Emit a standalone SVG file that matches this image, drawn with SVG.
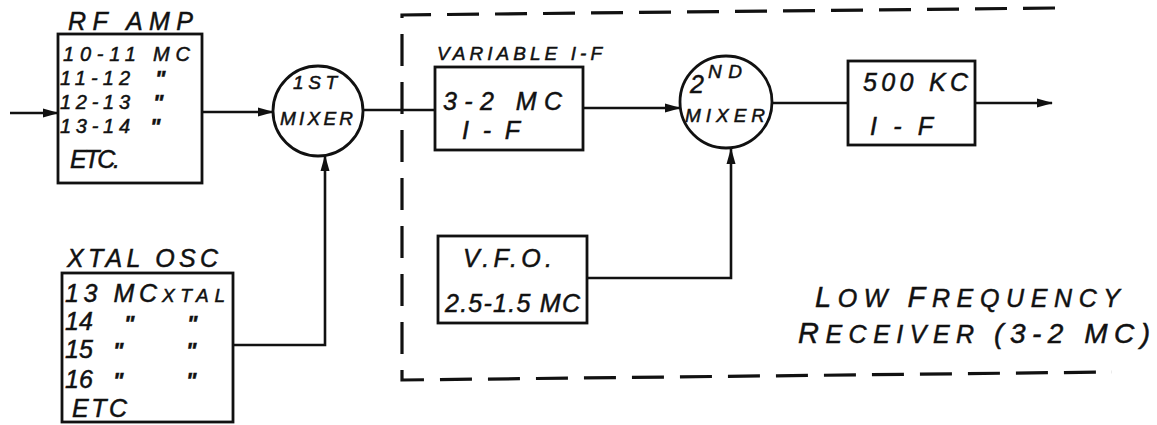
<svg xmlns="http://www.w3.org/2000/svg" width="1157" height="425" viewBox="0 0 1157 425">
<defs>
<marker id="arr" markerWidth="16" markerHeight="10" refX="15" refY="5" orient="auto" markerUnits="userSpaceOnUse">
<path d="M0,0.5 L16,5 L0,9.5 Z" fill="#111"/>
</marker>
<style>
.box{fill:none;stroke:#111;stroke-width:2.8}
.ln{fill:none;stroke:#111;stroke-width:2.6}
.dash{fill:none;stroke:#111;stroke-width:3.2;stroke-dasharray:32 16}
text{font-family:"Liberation Sans",Arial,sans-serif;font-style:italic;fill:#111;stroke:#111;stroke-width:0.5}
.t{font-size:25px}
.r{font-size:20px}
.s{font-size:19px}
.d{font-size:22px;font-weight:bold}
</style>
</defs>
<rect width="1157" height="425" fill="#fff"/>

<g id="receiver-boundary">
<path class="dash" d="M1055,8 L402,15 L402,380 L1112,372"/>
<text class="t" x="815" y="307" font-size="22" textLength="305" lengthAdjust="spacing"><tspan font-size="29">L</tspan>OW <tspan font-size="29">F</tspan>REQUENCY</text>
<text class="t" x="798" y="343" font-size="22" textLength="352" lengthAdjust="spacing"><tspan font-size="29">R</tspan>ECEIVER <tspan font-size="28">(3-2 MC)</tspan></text>
</g>

<g id="connectors">
<line class="ln" x1="10" y1="113" x2="58" y2="113" marker-end="url(#arr)"/>
<line class="ln" x1="202" y1="112" x2="273" y2="112" marker-end="url(#arr)"/>
<polyline class="ln" points="233,345 325,345 325,156" marker-end="url(#arr)"/>
<line class="ln" x1="363" y1="110" x2="435" y2="110"/>
<line class="ln" x1="583" y1="108" x2="680" y2="108" marker-end="url(#arr)"/>
<polyline class="ln" points="587,278 731,278 731,149" marker-end="url(#arr)"/>
<line class="ln" x1="773" y1="103" x2="848" y2="103"/>
<line class="ln" x1="975" y1="103" x2="1052" y2="103" marker-end="url(#arr)"/>
</g>

<g id="rf-amp">
<text class="t" x="68" y="30" font-size="22" textLength="125" lengthAdjust="spacing">RF AMP</text>
<rect class="box" x="58" y="34" width="144" height="149"/>
<text class="r" x="63" y="61" textLength="127" lengthAdjust="spacing">10-11 MC</text>
<text class="r" x="60" y="85" textLength="70" lengthAdjust="spacing">11-12</text>
<text class="d" x="155" y="86">"</text>
<text class="r" x="60" y="109" textLength="70" lengthAdjust="spacing">12-13</text>
<text class="d" x="153" y="110">"</text>
<text class="r" x="60" y="133" textLength="70" lengthAdjust="spacing">13-14</text>
<text class="d" x="150" y="134">"</text>
<text class="t" x="70" y="168" font-size="22" textLength="50" lengthAdjust="spacing">ETC.</text>
</g>

<g id="mixer-1">
<circle class="box" cx="318" cy="111" r="45"/>
<text class="s" x="293" y="89" font-size="21" textLength="44" lengthAdjust="spacing">1ST</text>
<text class="s" x="280" y="125" textLength="73" lengthAdjust="spacing">MIXER</text>
</g>

<g id="xtal-osc">
<text class="t" x="67" y="267" textLength="151" lengthAdjust="spacing">XTAL OSC</text>
<rect class="box" x="62" y="273" width="171" height="149"/>
<text class="t" x="65" y="302" font-size="26" textLength="92" lengthAdjust="spacing">13 MC</text>
<text class="s" x="162" y="302" font-size="21" textLength="63" lengthAdjust="spacing">XTAL</text>
<text class="t" x="65" y="330" font-size="24">14</text>
<text class="d" x="124" y="331">"</text>
<text class="d" x="187" y="331">"</text>
<text class="t" x="65" y="358" font-size="24">15</text>
<text class="d" x="113" y="358">"</text>
<text class="d" x="186" y="358">"</text>
<text class="t" x="65" y="388" font-size="24">16</text>
<text class="d" x="113" y="388">"</text>
<text class="d" x="186" y="388">"</text>
<text class="t" x="72" y="417" font-size="24" textLength="55" lengthAdjust="spacing">ETC</text>
</g>

<g id="variable-if">
<text class="s" x="437" y="60" font-size="17" textLength="165" lengthAdjust="spacing">VARIABLE I-F</text>
<rect class="box" x="435" y="67" width="148" height="83"/>
<text class="t" x="443" y="110" font-size="26" textLength="119" lengthAdjust="spacing">3-2 MC</text>
<text class="t" x="462" y="139" font-size="26" textLength="58" lengthAdjust="spacing">I-F</text>
</g>

<g id="mixer-2">
<circle class="box" cx="726" cy="102" r="46"/>
<text class="t" x="690" y="93" font-size="24">2</text>
<text class="s" x="708" y="78" font-size="16" textLength="34" lengthAdjust="spacing">ND</text>
<text class="s" x="685" y="122" font-size="18" textLength="80" lengthAdjust="spacing">MIXER</text>
</g>

<g id="vfo">
<rect class="box" x="438" y="236" width="149" height="87"/>
<text class="t" x="463" y="267" textLength="89" lengthAdjust="spacing">V.F.O.</text>
<text class="t" x="445" y="312" font-size="22" textLength="135" lengthAdjust="spacing">2.5-1.5 MC</text>
</g>

<g id="if-500kc">
<rect class="box" x="848" y="61" width="127" height="84"/>
<text class="t" x="863" y="91" font-size="27" textLength="105" lengthAdjust="spacing">500 KC</text>
<text class="t" x="870" y="135" font-size="27" textLength="63" lengthAdjust="spacing">I-F</text>
</g>
</svg>
